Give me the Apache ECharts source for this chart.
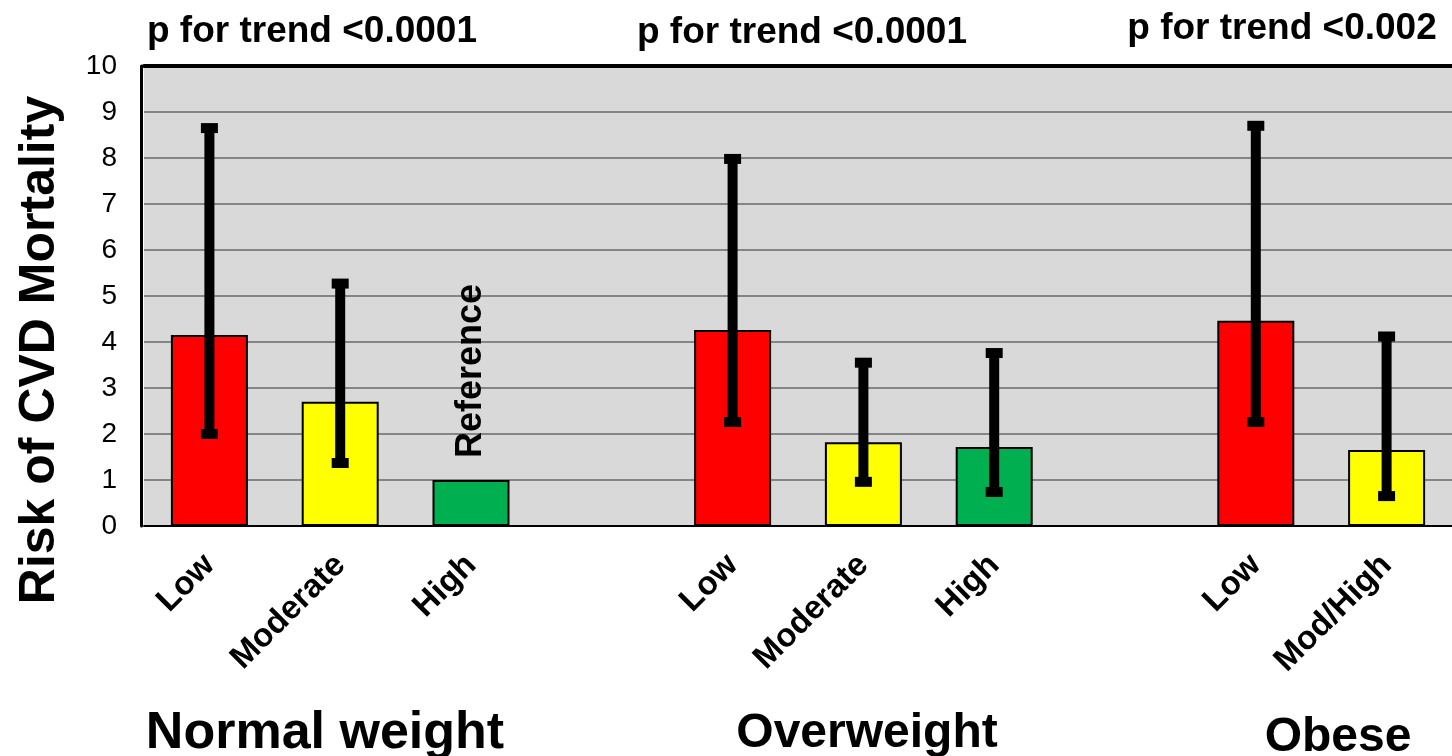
<!DOCTYPE html>
<html>
<head>
<meta charset="utf-8">
<title>Risk of CVD Mortality by fitness and weight</title>
<script src="https://cdn.jsdelivr.net/npm/echarts@6/dist/echarts.min.js"></script>
<style>
  html, body { margin: 0; padding: 0; background: #ffffff; }
  #chart { width: 1452px; height: 756px; }
</style>
</head>
<body>
<div id="chart"></div>
<script>
// Fitness categories within each weight group ('' marks the spacer slots)
const categories = ['Low', 'Moderate', 'High', '', 'Low', 'Moderate', 'High', '', 'Low', 'Mod/High'];
// Relative risk of CVD mortality
const risk = [4.15, 2.7, 1.0, null, 4.26, 1.82, 1.72, null, 4.46, 1.65];
// 95% confidence limits
const ciLow = [2.0, 1.37, null, null, 2.26, 0.96, 0.74, null, 2.26, 0.65];
const ciHigh = [8.65, 5.27, null, null, 7.98, 3.55, 3.76, null, 8.70, 4.12];
// Fitness level of each slot, used for colour
const fitness = ['low', 'mod', 'high', null, 'low', 'mod', 'high', null, 'low', 'mod'];
const groupNames = ['Normal weight', 'Overweight', 'Obese'];
const trendLabels = ['p for trend <0.0001', 'p for trend <0.0001', 'p for trend <0.002'];
const yTitle = 'Risk of CVD Mortality';

const FONT = '"Liberation Sans", Arial, Helvetica, sans-serif';
const fitnessColor = { low: '#ff0000', mod: '#ffff00', high: '#00b050' };

const barData = risk.map((v, i) => {
  if (v == null) return '-';
  const item = {
    value: v,
    itemStyle: { color: fitnessColor[fitness[i]], borderColor: '#000000', borderWidth: 2 }
  };
  if (i === 2) {
    item.label = {
      show: true,
      formatter: 'Reference',
      position: 'top',
      rotate: 90,
      align: 'left',
      verticalAlign: 'middle',
      distance: 22,
      fontFamily: FONT,
      fontWeight: 'bold',
      fontSize: 36,
      color: '#000000'
    };
  }
  return item;
});

const errData = [];
ciLow.forEach((lo, i) => {
  if (lo != null && ciHigh[i] != null) errData.push([i, lo, ciHigh[i]]);
});

// Thick whisker with square caps at both confidence limits
function renderErrorBar(params, api) {
  const idx = api.value(0);
  const lo = api.coord([idx, api.value(1)]);
  const hi = api.coord([idx, api.value(2)]);
  const stemW = 10, capW = 17, capH = 10;
  const style = { fill: '#000000' };
  return {
    type: 'group',
    children: [
      { type: 'rect', shape: { x: hi[0] - stemW / 2, y: hi[1], width: stemW, height: lo[1] - hi[1] }, style },
      { type: 'rect', shape: { x: hi[0] - capW / 2, y: hi[1] - capH / 2, width: capW, height: capH }, style },
      { type: 'rect', shape: { x: lo[0] - capW / 2, y: lo[1] - capH / 2, width: capW, height: capH }, style }
    ]
  };
}

const chart = echarts.init(document.getElementById('chart'), null, { renderer: 'canvas' });

const groupCenters = [325, 867, 1338];
const groupY = [734, 734, 738];
const groupSize = [52, 48, 48];
const trendCenters = [312, 802, 1282];
const trendY = [32, 33, 29];

const graphics = [];
groupNames.forEach((g, i) => {
  graphics.push({
    type: 'text',
    style: { text: g, x: groupCenters[i], y: groupY[i], align: 'center', verticalAlign: 'middle',
      fontFamily: FONT, fontWeight: 'bold', fontSize: groupSize[i], fill: '#000000' }
  });
});
trendLabels.forEach((t, i) => {
  graphics.push({
    type: 'text',
    style: { text: t, x: trendCenters[i], y: trendY[i], align: 'center', verticalAlign: 'middle',
      fontFamily: FONT, fontWeight: 'bold', fontSize: 37, fill: '#000000' }
  });
});
graphics.push({
  type: 'text',
  x: 40, y: 350, rotation: Math.PI / 2,
  style: { text: yTitle, x: 0, y: 0, align: 'center', verticalAlign: 'middle',
    fontFamily: FONT, fontWeight: 'bold', fontSize: 50, fill: '#000000' }
});

chart.setOption({
  backgroundColor: '#ffffff',
  animation: false,
  grid: {
    left: 144, top: 66, width: 1312, height: 460,
    show: true, backgroundColor: '#d9d9d9', borderWidth: 0
  },
  xAxis: [{
    type: 'category',
    data: categories,
    position: 'bottom',
    axisLine: { show: true, lineStyle: { color: '#000000', width: 2 } },
    axisTick: { show: false },
    axisLabel: {
      interval: 0, rotate: 45, margin: 34,
      fontFamily: FONT, fontWeight: 'bold', fontSize: 33, color: '#000000'
    },
    splitLine: { show: false }
  }, {
    type: 'category',
    data: categories,
    position: 'top',
    axisLine: { show: true, lineStyle: { color: '#000000', width: 4 } },
    axisTick: { show: false },
    axisLabel: { show: false }
  }],
  yAxis: {
    type: 'value',
    min: 0, max: 10, interval: 1,
    offset: 3,
    axisLine: { show: true, lineStyle: { color: '#000000', width: 3 } },
    axisTick: { show: false },
    axisLabel: {
      margin: 24, fontFamily: FONT, fontSize: 28, color: '#000000'
    },
    splitLine: { show: true, lineStyle: { color: '#858585', width: 2 } }
  },
  series: [{
    type: 'bar',
    data: barData,
    barWidth: 77,
    xAxisIndex: 0
  }, {
    type: 'custom',
    renderItem: renderErrorBar,
    data: errData,
    encode: { x: 0, y: [1, 2] },
    xAxisIndex: 0,
    z: 5
  }],
  graphic: graphics
});
</script>
</body>
</html>
